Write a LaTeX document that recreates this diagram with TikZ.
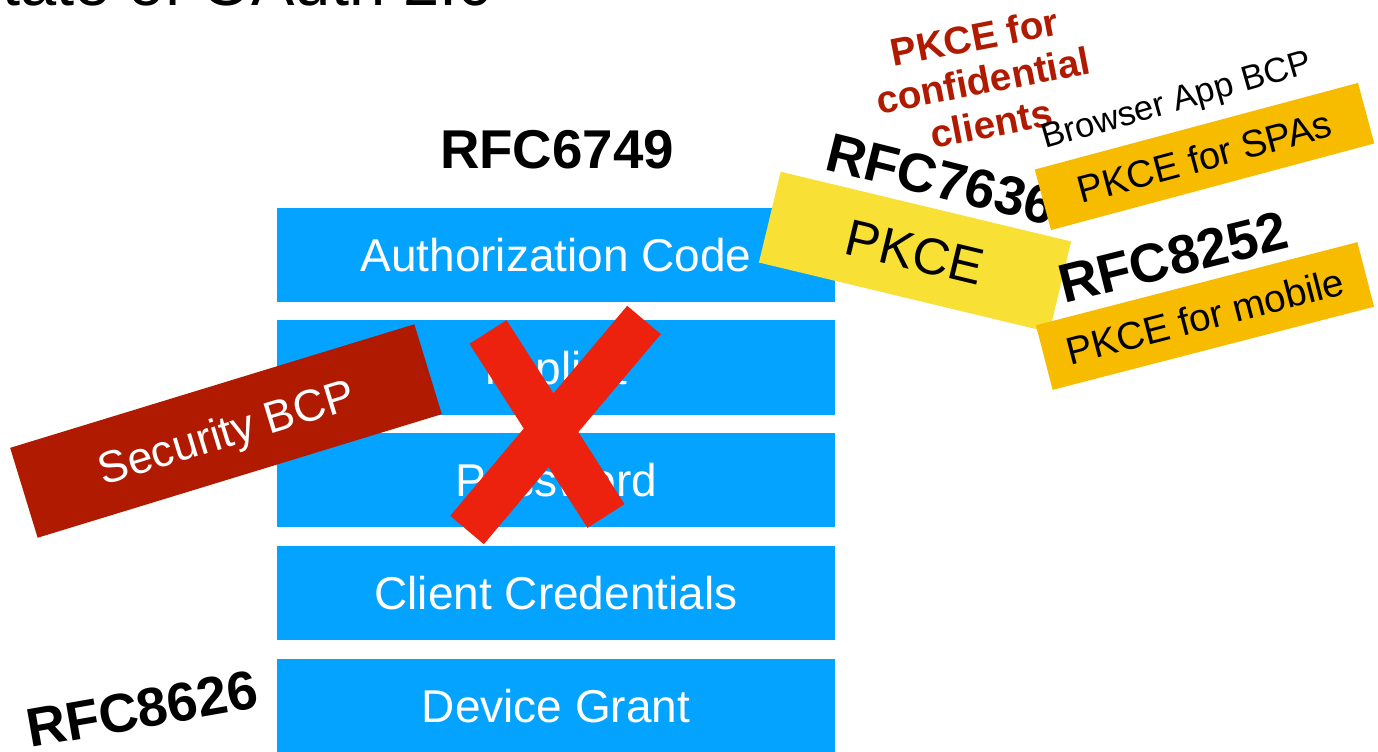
\documentclass[tikz,border=0pt]{standalone}
\usepackage{fontspec}
\setmainfont{Liberation Sans}

\definecolor{grantblue}{RGB}{3,163,255}
\definecolor{crossred}{RGB}{236,34,14}
\definecolor{bcpred}{RGB}{176,26,0}
\definecolor{pkceyellow}{RGB}{248,224,52}
\definecolor{pkceorange}{RGB}{247,188,0}

\begin{document}
\begin{tikzpicture}[x=0.75pt, y=-0.75pt,
    grant/.style={fill=grantblue, text=white, minimum width=418.5pt,
      minimum height=70.5pt, inner sep=0pt, text depth=0pt,
      font=\fontsize{34.5}{40}\selectfont},
    rfc/.style={inner sep=0pt, font=\fontsize{41}{48}\selectfont\bfseries},
    tag/.style={inner sep=0pt, text depth=0pt},
    cross/.style={crossred, line width=33pt}]
    \useasboundingbox (0,0) rectangle (1378,752);
    \fill [white] (0,0) rectangle (1378,752);
    \clip (0,0) rectangle (1378,752);
    % title (cut off at the top)
    \node [anchor=base east, inner sep=0pt, font=\fontsize{48.75}{56}\selectfont] (title) at (494,6) {State of OAuth 2.0};
    % grant types
    \node [grant] (authcode)   at (556,255)   {Authorization Code};
    \node [grant] (implicit)   at (556,367.5) {Implicit};
    \node [grant] (password)   at (556,480)   {Password};
    \node [grant] (clientcred) at (556,593)   {Client Credentials};
    \node [grant] (device)     at (556,706)   {Device Grant};
    % crossed out
    \coordinate (xa1) at (488,332);
    \coordinate (xa2) at (606,516);
    \coordinate (xb1) at (644,320);
    \coordinate (xb2) at (467,530);
    \draw [cross] (xa1) -- (xa2);
    \draw [cross] (xb1) -- (xb2);
    % security BCP
    \node [tag, fill=bcpred, text=white, rotate=17, minimum width=317pt, minimum height=70.5pt,
      font=\fontsize{33.5}{40}\selectfont] (secbcp) at (226,431) {Security BCP};
    % PKCE
    \node [tag, fill=pkceyellow, rotate=-13.5, minimum width=224pt, minimum height=70pt,
      font=\fontsize{38.5}{45}\selectfont] (pkce) at (915,252) {PKCE};
    % RFC numbers
    \node [rfc, anchor=base west, rotate=-14] (rfc7636) at (823,169)  {RFC7636};
    \node [rfc, anchor=base]                  (rfc6749) at (557,169)  {RFC6749};
    \node [rfc, anchor=base west, rotate=10]  (rfc8626) at (30,748)   {RFC8626};
    % confidential clients
    \node [anchor=base, rotate=11, align=center, text=bcpred, inner sep=0pt,
      font=\fontsize{29}{33}\selectfont\bfseries] (confidential) at (994,137) {PKCE for\\confidential\\clients};
    % browser apps
    \node [anchor=base west, rotate=16, inner sep=0pt, font=\fontsize{26}{30}\selectfont] (browserbcp) at (1045,149) {Browser App BCP};
    \node [tag, fill=pkceorange, rotate=15, minimum width=251pt, minimum height=47pt,
      font=\fontsize{28.5}{33}\selectfont] (spa) at (1204.5,156.5) {PKCE for SPAs};
    % native apps
    \node [rfc, anchor=base west, rotate=14] (rfc8252) at (1064,304) {RFC8252};
    \node [tag, fill=pkceorange, rotate=14.5, minimum width=249pt, minimum height=50pt,
      font=\fontsize{29}{34}\selectfont] (mobile) at (1205,316) {PKCE for mobile};
\end{tikzpicture}
\end{document}
